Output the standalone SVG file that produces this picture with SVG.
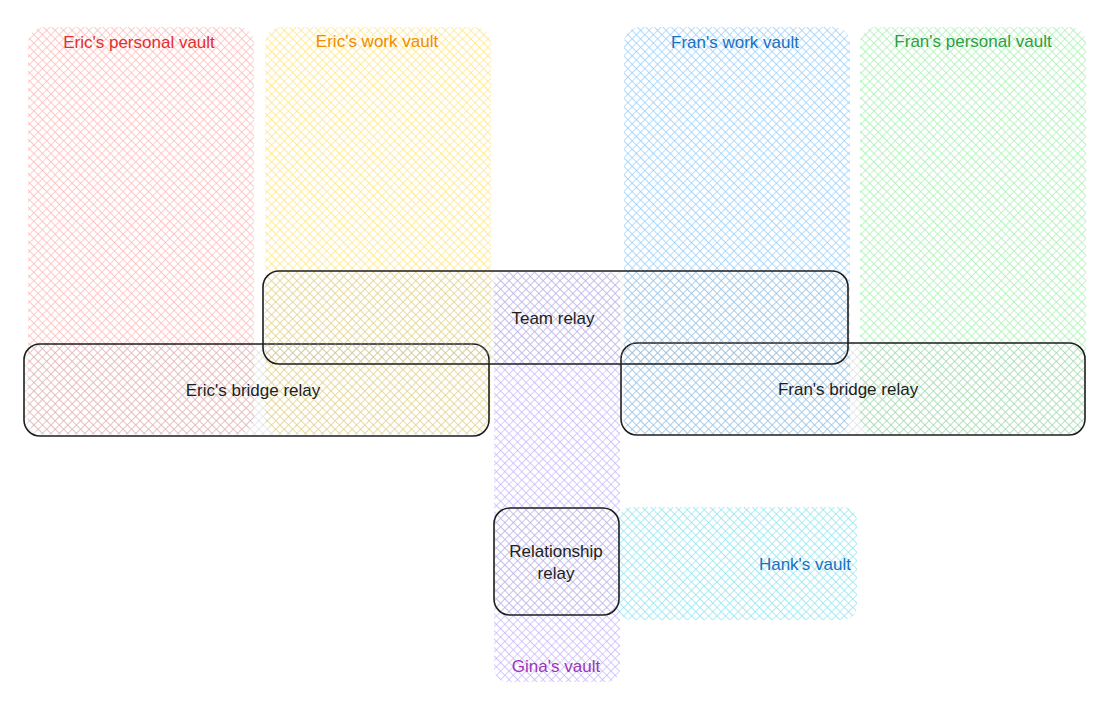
<svg xmlns="http://www.w3.org/2000/svg" width="1114" height="705" viewBox="0 0 1114 705">
<style>
.lbl{font-family:"Liberation Sans",Arial,sans-serif;font-size:17px;text-anchor:middle}
.relay{stroke:#1e1e1e;stroke-width:1.6}
.rt{fill:#1e1e1e}
</style>
<defs>
<pattern id="pRed" patternUnits="userSpaceOnUse" width="6" height="6" patternTransform="rotate(45)"><path d="M0 0H6M0 0V6" stroke="#ffb3b3" stroke-width="1.3"/></pattern>
<pattern id="pYel" patternUnits="userSpaceOnUse" width="6" height="6" patternTransform="rotate(45)"><path d="M0 0H6M0 0V6" stroke="#ffe57a" stroke-width="1.3"/></pattern>
<pattern id="pBlu" patternUnits="userSpaceOnUse" width="6" height="6" patternTransform="rotate(45)"><path d="M0 0H6M0 0V6" stroke="#92cdfc" stroke-width="1.3"/></pattern>
<pattern id="pGrn" patternUnits="userSpaceOnUse" width="6" height="6" patternTransform="rotate(45)"><path d="M0 0H6M0 0V6" stroke="#a3efae" stroke-width="1.3"/></pattern>
<pattern id="pPur" patternUnits="userSpaceOnUse" width="6" height="6" patternTransform="rotate(45)"><path d="M0 0H6M0 0V6" stroke="#c5b3fd" stroke-width="1.3"/></pattern>
<pattern id="pCya" patternUnits="userSpaceOnUse" width="6" height="6" patternTransform="rotate(45)"><path d="M0 0H6M0 0V6" stroke="#8ae3ef" stroke-width="1.3"/></pattern>
<pattern id="pGry" patternUnits="userSpaceOnUse" width="6" height="6" patternTransform="rotate(45)"><path d="M0 0H6M0 0V6" stroke="#adb5bd" stroke-width="1.1" opacity="0.55"/></pattern>
</defs>
<g id="eric-personal-vault">
<rect x="28" y="27" width="226" height="407" rx="16" fill="url(#pRed)"/>
<text class="lbl" x="139" y="48" fill="#e03131">Eric's personal vault</text>
</g>
<g id="eric-work-vault">
<rect x="265" y="27" width="226" height="407" rx="16" fill="url(#pYel)"/>
<text class="lbl" x="377" y="47" fill="#f08c00">Eric's work vault</text>
</g>
<g id="fran-work-vault">
<rect x="624" y="27" width="226" height="407" rx="16" fill="url(#pBlu)"/>
<text class="lbl" x="735" y="48" fill="#1971c2">Fran's work vault</text>
</g>
<g id="fran-personal-vault">
<rect x="860" y="27" width="226" height="407" rx="16" fill="url(#pGrn)"/>
<text class="lbl" x="973" y="47" fill="#2f9e44">Fran's personal vault</text>
</g>
<g id="gina-vault">
<rect x="494" y="272" width="126" height="410" rx="14" fill="url(#pPur)"/>
<text class="lbl" x="556" y="672" fill="#9c36b5">Gina's vault</text>
</g>
<g id="hank-vault">
<rect x="618" y="507" width="239" height="113" rx="14" fill="url(#pCya)"/>
<text class="lbl" x="851" y="570" fill="#1971c2" style="text-anchor:end">Hank's vault</text>
</g>
<g id="connectors"></g>
<g id="eric-bridge-relay">
<rect class="relay" x="24" y="344" width="465" height="92" rx="16" fill="url(#pGry)"/>
<text class="lbl rt" x="253" y="396">Eric's bridge relay</text>
</g>
<g id="fran-bridge-relay">
<rect class="relay" x="621" y="343" width="464" height="92" rx="16" fill="url(#pGry)"/>
<text class="lbl rt" x="848" y="395">Fran's bridge relay</text>
</g>
<g id="team-relay">
<rect class="relay" x="263" y="271" width="585" height="93" rx="16" fill="url(#pGry)"/>
<text class="lbl rt" x="553" y="324">Team relay</text>
</g>
<g id="relationship-relay">
<rect class="relay" x="494" y="508" width="125" height="107" rx="16" fill="url(#pGry)"/>
<text class="lbl rt" x="556" y="557">Relationship</text>
<text class="lbl rt" x="556" y="579">relay</text>
</g>
</svg>
